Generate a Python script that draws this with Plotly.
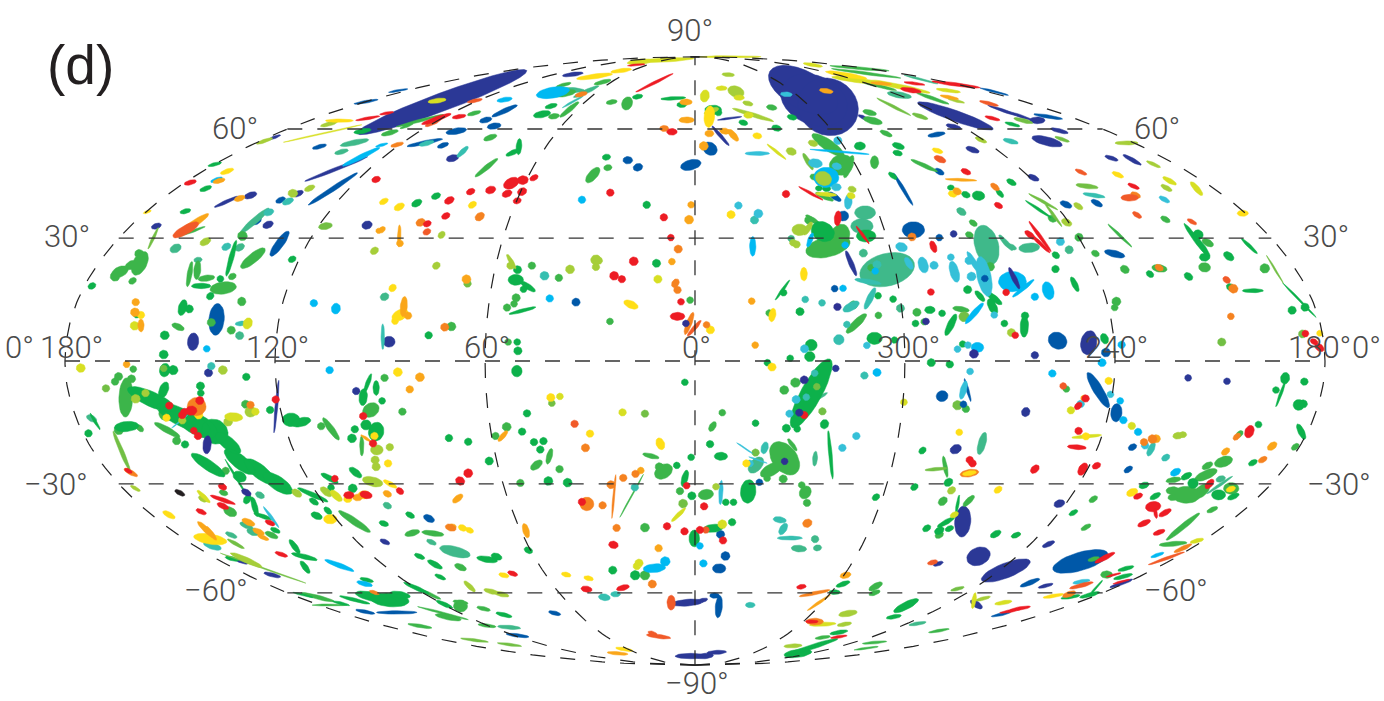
import math
import plotly.graph_objects as go

# Each mark: (map_x, map_y, semi_major, semi_minor, angle) or (map_x, map_y, radius).
# map_x / map_y are the Mollweide-plane readings in equatorial degrees (x -180..180, y -90..90).
NAVY = [(-72.3,76.6,26,2.7,21),(-120.1,66.2,1.8,.4,20),(-102.5,56.8,9.7,.5,22),(-133.9,47.1,3.8,.5,25),(-127,49,1.9,.9,20),
(-153.9,39.9,1.5,.8,20),(-122,40.3,1.6,1,25),(-113.4,49.5,1.6,.8,25),(-93.7,40.2,1.5,1.2,20),(-143.4,5.7,2.6,1.6,85),
(-69.3,60,1.8,1,15),(-34.9,84.8,3,.6,8),(-87.4,5.7,1.7,1.6,0),(38,75.2,9,8.2,-40),(30.9,80.2,11,5.5,-30),(34,77.2,10,7.2,-25),
(88.3,74,5,.4,-20),(48,72.1,1.5,.5,-25),(74.4,72.5,11.5,1.6,-20),(73.9,69.3,2.2,.7,-15),(79.3,62.5,2,.8,-20),(9.9,71.8,3.5,.3,8),
(7.3,66.6,3.8,.5,-50),(73.9,37.6,1),(44.6,28.9,4,.7,-68),(97.8,71.2,2.2,1,0),(92.9,72.5,4,.4,-20),(104.1,68.1,2.6,.6,-15),
(100.6,65,4.5,1.3,-15),(119,60,2,.6,-20),(124.9,59.5,3,.6,-30),(96.7,54.2,1.7,.8,-25),(112.5,5.4,3.6,2.3,80),(97.1,1.7,1.1),
(-139,-3.5,1.2),(-96.8,-8.9,1.1),(-119.6,-13.5,7.8,.4,85),(-129.6,-59.2,2.1,.6,-20),(-120.8,-63.3,2.5,.6,-15),(-88.6,-53.5,1.5,.7,-25),
(-1.2,-87.3,4.5,.8,0),(-2.1,-71.5,4.5,1,5),(40.2,-2.2,1),(74.5,-26.1,1.7,1.3,30),(76.5,-47.5,4.6,2.3,85),(69.5,-60,1.5,.6,20),
(81,-57.8,3.5,2.6,25),(88.8,-62,7.5,2.2,22),(1.9,-70.9,1.8,.6,15),(80.4,-72,2,.9,-35),(2.8,-87.3,2.5,.8,5),(6.2,-86.2,2.8,.6,3),
(140.9,-5,1),(152,-6,1),(94.5,-15.1,1.4,1.2,70),(104.1,-42.2,1.6,1.1,20),(101,-54.2,1.9,.7,25),(100.2,-66.5,2.2,.5,15),(121.8,-65.8,3.5,.5,20)]
BLUE = [(-94,76.7,3.5,.4,10),(-107.3,63.4,2.1,.6,15),(-103.5,50.9,8.5,.7,34),(-125.2,41.4,1.5,.9,35),(-118.7,34.7,4.5,1.2,55),
(-118.4,47.6,1.5,.8,25),(-136.7,12.3,4.7,2.2,85),(-84.8,80,2.8,.3,10),(-54.4,74,4,.7,25),(-59.8,71.3,1.8,.8,15),(-57.4,69.5,2,.9,10),
(-68.2,68,3,.9,10),(-77.2,64.6,5.2,.6,12),(-72,63.8,1.7,.7,20),(-1.2,58,3,1.5,15),(-19.2,59.4,1.4,1.1,0),(-16.3,57.3,1.4,1.1,20),
(-34,17.4,1.2),(85.5,79.7,4.2,.3,-15),(69,67,2.5,.7,10),(69.8,56,1.5,.8,-30),(39.9,48.6,2.2,.8,-35),(4.3,62.8,2.2,1.8,-40),
(59.5,50.8,5.5,.5,-60),(42.4,42.9,1.5),(62.4,38.8,3.2,2.4,0),(69.8,36.5,1),(39.9,21.4,1),(100.9,72.3,4.2,.5,-10),(106,46.3,1.8,.9,-25),
(114.8,46.7,1.8,.8,-30),(119.9,31.7,3,1,-15),(103.6,6,2.8,2.4,-35),(117.4,2.5,1.3),(-94.2,-74.2,2.8,.5,-12),(-85.2,-74.4,5.8,.5,0),
(-50.7,-81.2,3.3,.5,-8),(-40.1,-74.6,1.8,.6,-15),(-76,-46.6,1.7,1,-30),(18.4,-35.9,1),(7.3,-51.3,1.2),(8.7,-57.7,1.3),(6.9,-61.4,1.9,1.4,0),
(70.6,-10.4,1.7,1.6,30),(77.9,-8.6,3.5,.4,-75),(5.6,-69.4,1.4,.8,0),(6.8,-72.7,3.3,1,85),(87.4,-75,2.8,.4,12),(115.2,-8.6,6,1.4,-60),
(120.4,-15.3,2.7,1.6,85),(123.8,-32.1,1.4,.8,35),(125,-25.5,1.3,.9,30),(110.1,-59.3,8.2,2.7,17),(95.7,-65.6,3,.7,22)]
SEA = [(-97.3,64.6,4.2,.8,12),(-101,61.9,2,.7,15),(-148.4,33.3,1.7,1.2,30),(-125.8,41.5,5.5,.9,42),(-130.1,33.6,1.5,1,30),
(-142,29.9,1.2,.8,10),(-130.1,7.5,1.2),(-34.9,80.2,3.5,.7,-5),(-31.1,79.7,4,.6,25),(-88.7,19,1.3,1.1,30),(64.6,83.3,5,.3,-15),
(58.4,78.7,3.5,.9,-10),(76.1,44.2,1.5,1,-35),(83.3,34.3,6,3.4,-75),(88.8,35,3,.7,-50),(48.6,43.9,3,2,0),(47.7,39.9,3.2,2.2,0),
(48.1,31.9,1.2),(54.9,27,8,4.8,15),(58.7,15.6,1.2),(27.5,36.2,1),(106.9,32.9,1.2),(95.5,33.5,3,1.4,5),(90.5,33.8,1.5,.7,-30),
(-172.4,-17,1.6,.9,-30),(-124.3,-39.7,1.4,.9,-30),(-132.5,-51.5,1.8,.7,-25),(-128.2,-48.7,2,.8,-25),(-126.3,-50.5,1.8,1.1,-20),
(-87.9,-42.8,1.3,.9,-30),(-75.3,-53.6,1.5,.7,-25),(-68.6,-56.4,4.5,1.5,-15),(-66.3,-57,2,1.1,-10),(-53.1,-78.8,3.3,.6,-5),
(34.3,-28.9,2.2,.7,85),(17.4,-30.8,2.8,1.7,50),(35.1,-11,3.2,.5,30),(34.3,-52.7,1.1),(29.7,-55.5,2.2,1,-5),(35,-55.3,1.2,.9,10),
(82,-24.4,3.4,1.1,75),(63.6,-77.7,2.5,.5,10),(150.2,-34.9,1.4,.9,20),(149.9,-36.7,4.5,.4,35)]
MID = [(-143.9,38.3,4.2,.4,20),(-129.3,37,1.4),(-126.3,30.4,4.5,1.4,40),(-144.4,25.7,3.8,.7,80),(-142.2,26.9,2.8,1,85),(-139.6,24.5,2.4,.9,8),
(-132.2,25,1.2,.9,30),(-134.8,21.6,3.8,1.8,8),(-129.5,17.6,1.2,1.3,0),(-138.2,11.4,1.2),(-147.7,10.1,1.9,.9,-25),(-132.5,9.1,1.2),
(-158.6,28.9,3.8,2,65),(-164.3,26.4,2.5,1.5,25),(-165.7,25,1.4),(-161,28.4,2,1.2,30),(-158.8,31.7,1.3),(-160.7,23.7,1.2,.9,35),
(-78.6,71.1,7,.4,15),(-63.1,73.3,2,.6,15),(-87.2,67.5,2.5,.7,15),(-82.4,69.5,2,.4,20),(-58.5,66.1,2,.8,20),(-59.6,57.2,4.2,.7,40),
(-37.5,81.7,2.2,.5,15),(-37.3,79.2,3.3,1,10),(-26.4,82.5,2.5,.6,15),(-35.9,74.4,3.5,.7,40),(-40.3,72.4,1.6,.8,10),(-23.8,76.6,1.6,.7,10),
(-19.4,76.2,2,1.5,70),(-24.9,57.2,1.2,.9,10),(-29.2,55,2.8,1.3,50),(-69.6,10.2,1.3),(-46.6,28.2,1.1),(-38.9,24.6,1.1),(-51.1,18.7,1.2),
(-51.7,16.9,1),(-53.7,15.8,1.1),(-24.3,11.7,1),(-1.4,18,1),(-53.4,5.6,1),(47,86.6,8.5,.4,-5),(48.9,85.1,10,.4,-8),(51.8,81.6,6,.5,-15),
(67.9,77.7,5,.5,-20),(49.9,73.5,2,.8,-15),(50.8,71.1,2.8,1,-15),(54.6,67.3,1.9,.7,-25),(65.5,57.8,4.2,.6,-25),(51.3,58.8,1.9,1.2,90),
(21.9,75,1.5,.8,-10),(38,63.9,5.5,1.6,-35),(41.8,58,3.5,3,20),(43.9,57.5,3.5,1,70),(34,54.4,1.2,.9,-20),(37,48.6,2.8,.7,-25),
(79.5,40.8,1.3,.8,-35),(78.4,37.3,1.2,.9,-30),(38,33.8,6.5,3,15),(41.3,36.8,3.8,2.8,70),(33.7,41.7,2.5,.7,-35),(32.5,41.7,1.2),
(50.3,27.6,1),(45.3,16.6,1.2),(52.4,13.5,1),(63.4,14.4,1.2),(65.5,11.6,1),(46.1,11.1,4,1.1,45),(76,15.3,2.4,.8,-10),(21.2,14.2,1),(84.3,27.9,1.3),
(102.1,42.1,1.3,1,-30),(109.7,36.6,1.2),(121.4,37.1,4.8,.4,-45),(114.4,31.8,1.2,.9,-30),(122.8,27.1,1.4,1.1,-40),(132.7,27.4,2.2,1.1,-10),
(134.4,41.9,1.5,.8,-30),(146.5,35,1.8,1,-30),(145.6,27.7,1.4,1.7,80),(162.8,27.4,1.4),(120.4,17.6,1.3),(119.9,15.8,1),
(-160.5,-2.4,1),(-164.7,-4.6,1.2),(-165.7,-6.1,1.1),(-161,-5.3,1.2),(-162.6,-10.8,5.8,2,88),(-151,-15.5,2.2),(-128.4,-12.8,1.2),
(-104,-20.1,4,.9,-55),(-106.8,-19.3,1.1),(-92.6,-14.5,2.5,2,35),(-95.2,-25.1,3,.6,90),(-164.6,-20.4,1.4),(-158.6,-19.9,1.3,.8,-45),
(-150.8,-20.4,4.2,.9,-30),(-148.1,-23.6,1.2),(-134.1,-32.5,1.1),(-134.7,-39,1.3,.8,-20),(-132.8,-44.6,2,1.3,-30),(-121,-51.5,2,.8,-25),
(-107.8,-69.9,5,.6,-15),(-104.4,-72.2,5,.3,0),(-97.3,-47.5,5.5,1,-35),(-88.7,-5,1.1),(-83.6,-15,1.1),(-57,-22.2,1.1),(-53.8,-19.5,1.3),
(-41.6,-28.2,2.4,.8,75),(-45.3,-30.8,2,1.1,40),(-38.7,-32,1.1),(-12.6,-28.1,2.4,.7,-15),(-9,-32.7,2.8,2,35),(-10.2,-31.3,1.2),(-49.9,-36.1,1.1),
(-18.1,-39.9,7.2,.2,62),(-4.3,-38.5,1.1),(-80.8,-50.9,2.2,.9,15),(-74.9,-51,3.2,.8,-8),(-14.3,-49.3,1.3),(-14.3,-63.4,1.4),(-67,-61,1.8,.9,-25),
(-67,-72.5,2,1.8,0),(-67,-71.4,2.2,.6,-10),(-60.4,-73.3,2,.6,-15),(-72,-74.6,7.5,.3,-15),(-70.5,-75.8,3.8,.8,-12),(-78.6,-78.4,3.5,.5,-10),
(-59.4,-78.3,2.6,.5,-8),(-75.8,-69,3.5,.5,-25),(28.7,-6.4,1.4),(25.5,-8.6,1.3),(30.9,-14.5,2),(25.6,-28.8,5.5,3.6,-55),(27.8,-24.8,2.2,.6,-55),
(21.8,-32.2,3.5,1.7,30),(25.2,-34.9,1.2),(20.6,-34.7,1),(30.5,-36.7,1),(31.5,-38.9,2,1.6,60),(32,-42,1.1),(5,-19.4,1.6,.9,60),(7.8,-15.3,1),
(3.1,-39.5,2.2,1.5,10),(71.5,-31.3,3.2,.6,-80),(70.8,-41.5,1.5,1.1,45),(78.2,-41.4,2.2,.8,45),(69.8,-51.5,1.3,.9,30),(77.4,-14.2,1.1),
(51.6,-66.7,2.2,.9,30),(51.3,-68.6,1.7,.7,20),(69.7,-79.8,3,.4,10),(36.5,-81.8,2.2,.5,8),(51.3,-83.3,3.5,.4,5),(48.9,-85,3.5,.3,8),
(106.1,-8.3,1),(171.5,-25.4,1.3,.8,40),(155.6,-21.6,1.2,.8,45),(151,-29.8,2.7,1.5,20),(146.4,-31,1.7,.9,30),(146,-33.7,3.5,1.3,25),
(136.7,-35.2,2.2,.8,10),(153.2,-37.7,2.2,1.7,0),(140.4,-39.6,4,2.5,0),(136.6,-38.4,2,1.2,0),(136.6,-40.3,1.5,1,10),(144.6,-38.6,3,1.5,40),
(113.8,-40.9,1.4,.8,35),(147.8,-44,1.7,.7,25),(111.7,-49.2,1.6,.7,30),(139.4,-49,6.2,.8,40),(136.6,-54.1,4,.7,5),(91.7,-51.6,1.4,.7,20),
(113.9,-58.6,1.7,.6,15),(117.6,-63.2,1.7,1.1,0)]
GREEN = [(-95,68,2.5,.7,10),(-137.2,58.2,2,.5,15),(-139.8,51,1.8,.7,20),(-145.6,44.3,1.6,.7,15),(-132.5,30.4,5.5,.7,75),(-115.1,30.1,1.2,.9,30),
(-141.1,22.2,2.8,.8,0),(-135.6,24.3,1),(-138.5,19.2,1.2,1,50),(-146.4,15.8,2.4,1.2,75),(-144.5,15.4,1.2),(-151.5,7.6,1.3),(-151.8,1.9,1.3),
(-172.3,22.2,1.2,.9,30),(-159.5,13.7,1),(-50.3,63.4,2.4,.8,85),(-52,61.7,2.2,.7,25),(-41.1,75.4,1.8,.7,15),(-43.7,73,2.5,1,12),
(-16.4,78.2,1.5,.7,10),(-6.2,77.7,3.6,.5,3),(-3.8,75.8,1.4,.8,0),(-25.3,60.3,1.2,.9,10),(-13.8,46.2,1.1),(-74,48.8,1.4,.9,25),(-79.5,46.7,1.6,1,30),
(-76.1,7.6,1.1),(-50.7,27,1.2),(-51.2,24,2.2,1.6,0),(-47.7,22,2.5,.8,-35),(-49,21.2,1),(-49.3,14.9,4,.5,15),(-11,28.9,1.2),(-50.8,5.6,1),(-50.6,3,1.2),
(58.1,63.6,1.8,.9,-20),(57.9,61.5,1.4,.8,-15),(47.1,63.6,1.6,1.2,0),(27.7,72.1,1.4,.8,-15),(23.3,68.9,1.4,.9,-15),(6.7,73.5,1),(13.8,70.5,1.3,.8,-15),
(90.7,70,2.2,.5,-15),(5.2,74.3,2.4,1.4,0),(56.5,54.8,1.5,.7,-40),(35.4,51.1,1,.8,0),(37.6,51,1.2,.9,0),(73.1,51.3,1,.8,0),(77.4,49.2,1.3,.9,-25),(81,48.9,1.8,1.4,-10),
(87.1,49.6,1.5,.7,-50),(90.4,52.9,1.5,.8,-30),(48.9,37,2.8,1.8,0),(36.5,38.3,3.5,2.8,-30),(25,21,3.6,.4,55),(25.3,20.2,1),(77.9,21.1,1.2),(81.4,19.2,2,.8,-50),
(85.5,18.5,2.8,.9,-40),(85,16.1,2.5,1.2,-65),(52.3,19.3,1),(56.6,18.3,1),(30,14.6,1.2),(67.1,15.1,1.5,1.1,0),(70.6,14.1,1),(63,11.1,1),(73.1,10.7,3.5,1,65),
(88.4,11.1,1),(51.3,6.7,2.2,1.8,0),(57,6.2,1),(33.2,4.7,1.7),(32.8,1.3,1.5),(27.2,.8,1),(76.5,5,1),(98.1,44.9,4.5,.4,-35),(143.2,35.8,6,.7,-55),(144.9,33.8,3.8,.8,-55),
(143.7,37.3,1.5),(145.6,30.7,1.5,1.2,0),(158.4,34,3.2,.5,-45),(152.5,31,1.7,1.1,-40),(172.7,18,7,.3,-47),(103.1,31.3,1.2,.9,-40),(103,27.2,1.1),(130,25.7,1.2,.9,-40),
(141,25,1.4,1,-40),(108.5,22.7,2.4,.8,-65),(153,21.8,1.3,1,-40),(159.4,20.8,3,.6,0),(170.6,15,1.2),(174.3,15.9,1.2),(94.1,10.2,3.2,1.2,88),(94.3,13.4,1.1),(117,6.6,1.6,1.1,-70),
(-151.5,-2.7,2,1.5,80),(-149.1,-2.7,1.4),(-128.2,-4.7,1.1),(-155.3,-11.3,7.5,2.2,-25),(-146.2,-16.9,8.5,2.6,-27),(-142,-19,6,3,-28),(-137.2,-20.9,4,3.5,-40),(-133.4,-24.3,4.5,1.8,-40),
(-130.1,-29.8,5.5,2,-40),(-124.4,-32.7,5.5,2,-40),(-119.2,-36.2,5,2,-35),(-139.1,-30.8,5.8,1.5,-35),(-151.8,-8.6,2.5,1.3,70),(-141.3,-7.4,1.2),(-141.2,-9.5,1),
(-143.4,-12.7,1),(-121.4,-14.5,1.1),(-115.4,-17.4,2.5,2,0),(-112.5,-18.1,2.8,1.3,15),(-97.2,-20.2,1.1),(-98,-22.9,1.3),(-94.8,-10.7,2.5,1.2,85),(-93.5,-6.6,3,.6,70),
(-91.1,-8,2.2,.9,90),(-94,-18.9,1.5),(-91.1,-20.9,2.8,2.2,80),(-171.4,-17.9,2.8,.4,-60),(-173.3,-21.4,1.1),(-162.4,-19.4,3.5,1.5,5),(-145.7,-24.7,1.1),
(-131,-34.7,6.5,.3,-60),(-130.1,-34.2,2,1.5,-30),(-127.9,-40.9,1.5,1,60),(-125.8,-43.1,3,.8,-75),(-123.4,-46,2.8,.6,-20),(-119.9,-50.1,1.5,.7,-25),(-114.4,-54.9,2.5,.8,-55),
(-111.6,-57.9,3.8,.7,-15),(-111.4,-61,2.2,.8,-55),(-132.3,-58.5,2,.6,-15),(-93.8,-64.8,2,.6,-15),(-91.2,-69.9,6,1.4,-12),(-97.2,-70.7,4.5,.5,-15),(-101.1,-71.7,2.5,.4,-15),
(-112,-69.2,3,.3,-15),(-104.4,-34.7,2.8,.8,-30),(-97,-33,2.2,1,-40),(-97.8,-37.7,1.3),(-104,-37.5,1),(-109.2,-39.6,4.8,.7,-25),(-108.9,-41.6,1.5,.8,-35),(-108.1,-45.8,1.7,1,-25),
(-104.9,-44.3,1.4,.8,-45),(-89.4,-11.8,1),(-50.9,-3,1.7,1.5,90),(-2.9,-6.3,1),(-48,-15.5,1.1),(-70.3,-22.8,1.1),(-64.8,-23.9,1.1),(-49.4,-20.9,1.1),(-46,-24,1.1),(-43.3,-23.7,1.1),
(-44.2,-26.2,1.1),(-58.8,-29.6,1.2),(-5.2,-30.9,1),(-1.1,-28.5,1),(-41.9,-35.5,1.3),(-36.4,-36,1.3),(-2.9,-34.7,2.5,.9,75),(-.9,-39.9,1.2),(-81.4,-45.6,1.4,.8,-30),(-88.9,-48.1,1.4,.8,-20),
(-47.6,-56,1.3,.9,-30),(-56.7,-57.9,1.6,1,-20),(-59.4,-58.7,3,.9,-10),(-78.7,-57.8,1.6,.7,-25),(-74.3,-60.2,2.4,.8,-30),(-72.8,-63.9,1.7,.6,-25),(-.2,-52.5,2.5,1.5,90),(-17.1,-63.4,1.4),
(-23.5,-61.9,1.2),(-79.6,-67.2,4,.6,-25),(-87.2,-70.7,5.5,2,-5),(-84.3,-69.2,3,1,-10),(-71.6,-72,2.6,.6,-25),(-54.6,-75.1,2.4,.6,-15),(20.7,-.5,1),(72.8,-1,1.1),(67.5,-.5,1.2),
(33.2,-9.6,11.5,3,62),(37,-18.7,1.4,1.2,70),(26.1,-19.9,1.2),(29.2,-20.1,1),(38.7,-27.8,7.2,.5,-85),(17.3,-18.4,1),(4.3,-24.6,1.1),(7.4,-28.2,1.9,1.2,0),(15.2,-38.6,3.5,2.2,85),
(8.8,-41.8,1),(11,-41.8,1),(5.2,-49.5,2.8,1.2,5),(10.6,-47.7,1.1),(62.7,-37.3,1.2,.9,40),(51.7,-40.3,1.2,.9,40),(65,-26.5,1.2,.9,45),(72.4,-35.9,1.4,1.1,40),(75,-42.6,3,.4,80),
(71.7,-47.7,2.8,.7,30),(72.7,-49.6,1.3,.8,25),(66.2,-49.5,1.3,.9,35),(69.8,-50.2,1.5,1,30),(85.9,-51.2,1.7,.9,30),(91.7,-51.5,1.4,.7,25),(42.3,-66,2.1,.7,20),(39.9,-68.4,1.6,.7,0),
(60.3,-72.4,4,1.1,28),(56.8,-75.7,2.2,.6,10),(41.1,-80.3,2.6,.6,10),(33.7,-84.5,7.5,.7,18),(29.4,-86.5,4,1.2,8),(168.6,-5.1,1.7,1.3,80),(167.4,-9.6,4.2,.4,70),(166,-8.6,1),(174.1,-6.1,1.1),
(172.5,-13,1.6),(173.8,-12.7,1.2),(173.2,-20.9,2.5,.9,-65),(161,-18.8,1),(159.4,-30.1,1.4,.8,30),(140.4,-34.1,1.7,.9,30),(142.3,-36.2,1.5),(149.6,-39.6,2,1.5,0),(153.8,-40.1,1.8,.8,25),
(128.3,-36.8,1.5,.9,20),(131.5,-40,1.7,.8,30),(108.1,-44.9,1.4,.7,30),(107.3,-69.8,2.8,.5,10),(112.8,-69.2,3,.6,15),(114.5,-67.2,3,.3,50),(123.1,-61.4,2.4,.6,15),(122.3,-63.8,2.8,.6,15)]
TEAL = [(-116.3,47.2,1.7,.9,25),(-121.8,44,1.5,1,20),(-133.9,33.8,1.4,1,30),(-129.6,11.1,1.8,.7,5),(-76.7,64.4,2.2,.7,15),(-66.4,61.9,2.2,.7,45),(-34.9,76.7,3.5,.3,30),(-43,25.2,1.3),(-89.2,7.2,3.8,.5,90),
(90.2,65,2.2,.7,-15),(17,41.7,1.2),(49.4,23.5,3.8,.7,-10),(52,28.5,1.2),(50,18.5,3.5,.9,65),(44.6,16.1,2.6,1.2,30),(31.5,18.2,1),(36.3,17.2,1),(43.4,10.8,1),(41.1,6.3,1.5),
(114,49,3.2,.6,-10),(-138.2,-1.5,1.1),(-137.9,-54.7,2.7,1,-20),(-25.9,-69.9,1.7,1,-10),(-22.7,-69,1.4,.8,0),(-17.2,-37.4,1.1),(19.9,-25.7,1.8,1,75),(24.2,-47,1.9,.9,-10),
(25.2,-49.7,1.9,1,60),(27.1,-52.4,3.6,.6,0),(34.2,-3.6,1),(31.8,-10.7,1),(48.4,-4.3,1.1),(15.8,-72.2,1.4,.8,0),(130.3,-26.1,2.2,.9,65),(134.5,-28.6,1.3,.9,35)]
LGREEN = [(-105.6,39.9,2,1,10),(-154.8,36.3,3.5,.4,65),(-65,22.9,1.1),(32.3,59,2.8,.7,-60),(93.8,71.1,2.8,.6,-15),(104.9,65.6,2.2,.5,-20),(112,51.7,3.2,.7,-8),
(99.5,47.1,4.8,.4,-30),(102.4,43.2,4.2,.4,-55),(165.7,27.1,4.8,.25,-60),(150.5,5.6,1.2),(173.6,8,1.2),(56.8,75.2,5.5,.4,-28),(64.3,72.4,2.4,.6,-20),(-168.3,-8.1,1.1),(-151.8,-2.2,1),(-163.8,-26.8,6.5,.6,-68),
(-123.4,-61.3,13,.2,-20),(-131.2,-54.1,2.8,.5,-30),(-40.9,-12.5,1),(-14.3,-15.6,1.1),(-3.4,-42.2,1.3),(34.8,-7.6,1),(36.4,-14.9,1.1),(17.3,-27.1,1.1),(68.9,-32,3.2,.5,5),(75,-13.1,1.4),(75,-67.4,2,.5,15),
(-63,-82.6,4,.4,-8),(-53,-83.9,3.5,.4,-8),(76.9,13.1,1.5)]
SKY = [(-95.4,60.4,6,.7,27),(-136.7,53.6,1.8,.6,20),(-139.5,3.6,1),(-108.9,17.1,1.1),(-102.6,15.5,1.6,1.3,80),(-54.4,77.3,2.2,.7,10),(-89.5,63.9,1.8,.4,15),(-40.6,79.4,4.8,1.6,10),(-32.3,47.7,1.1),(-41.5,18.5,1.1),
(41.3,61.9,8.5,.3,-5),(37.5,54.3,3.6,3,0),(32.9,35.8,2.2,.7,70),(42.9,34.3,1),(51.5,26.6,1),(90.7,23.5,4,3,0),(42.3,21.5,1),(80.7,4,1.8,1.5,0),(16.5,33.9,2.9,.9,90),(100.9,20.8,2.7,1.6,-75),(97.1,19,1.1),
(93.8,21.5,4,.6,40),(121.9,4.8,1.1),(-104.4,-2.7,1.1),(-101.6,-60.5,4.5,.7,-22),(-94.4,-65.9,2.3,.7,-15),(-8.5,-59.3,1.4),(-11.6,-61.3,3.2,1.3,5),(1.4,-54.7,1),(2.4,-59.9,1.1),(52,-3.4,1.2),
(102.1,-3.7,1.1),(116.3,-.5,1.2),(121.5,-11.8,1),(122.4,-17.5,1.1),(126.6,-21,1.1),(137.3,-32.9,1.6,1,30),(132.1,-57.4,2,.5,20),(79.8,14.1,4,.8,50)]
CYAN = [(-147.2,-17.9,3,.2,40),(-121.1,-46.2,3.8,.4,-55),(26.1,78.9,1.7,.7,-5),(17.8,61.4,3.5,.6,0),(40.8,65.2,1.2),(40.5,57.6,1.4,1,-15),(34.4,58.5,2,1.3,-10),(40.4,51.4,1.4,1.1,0),(43.8,47.1,2.2,1.1,85),
(12.4,46,1.1),(18.1,43.6,1.3),(59,33.7,1.7,1.3,-20),(61.1,28.9,2,.9,-60),(65.2,28.4,2.4,1.4,-75),(68.3,28.3,1.2),(74.1,26.4,3.2,1.3,-75),(73.1,30.7,1),(78.3,29.7,1.2),(82.6,25,6,2,-78),(79.8,28.9,4,.8,-60),
(79,25,1.3),(134.1,47.8,1.7,.7,-30),(104.4,35.3,1.2),(49.1,4.6,1),(31.3,3.6,1.2),(78,4.7,1),(75,3.5,1),(28.9,-11.4,1.2),(27,-15.6,1.1),(46.1,-22.2,1.1),(42.1,-25.7,1.1),(14.2,-25.8,2.8,.2,-35),(18,-29.3,2.8,.2,-20),
(15.7,-30.3,1),(7.4,-38.9,3.6,.6,87),(78.6,-3.1,1),(76.7,-8.6,2.8,.9,75),(118.7,-9.9,1),(110.2,-12.7,1.1),(128.6,-25,1.1),(110.4,-65.3,2.5,.6,10),(85.5,13.6,1)]
OLIVE = [(-104.6,70.1,2.5,.6,15),(-123,65.1,2.5,.5,20),(-139.9,35.3,1.7,1,30),(-114.9,49.6,1.4,1.2,0),(-110.1,51.1,1.6,.8,25),(-91.6,32.6,1.3,1,40),(-72.4,37.3,1.2,.9,50),(-73.9,28.2,1.2,1,40),(-52.5,29.4,2.5,.6,-60),
(-52.7,28.2,1.1),(-35.7,27.1,1.3),(-28.3,29.9,1.5),(-27.5,29.7,1.1),(-28.3,27.8,1.1),(74.6,77,2.5,.4,-15),(15.1,76.2,1.5,.7,-15),(16.6,72.8,6.2,.6,-18),(9.5,84.7,1.8,.6,-5),(11.7,79.7,2.4,1.6,-20),(4.7,74,2.2,.8,20),
(27.5,62,1.5,1.1,-20),(33.7,64.4,1.4,.9,-20),(36.7,54,2.4,2,-30),(44.9,50.8,1.2,.9,-20),(29.9,38.8,2.2,1.7,0),(32.3,39.2,2.2,.8,60),(28,35,1),(29,34.5,1.1),(81.7,65.4,1.8,.6,-25),(90.4,8.4,1.2),(123.3,64.5,3.3,.6,0),
(131,58.2,2.2,.5,-25),(134.7,51.2,1.8,.7,-30),(109.5,45.8,1.5,.8,-35),(106.2,41,1.6,1,-30),(-157,-9.5,1.1),(-159.8,-11.2,1.3),(-146.5,-17.6,1.1),(-133.4,-18,1.3),(-127,-15,1.6),(-90.9,-26.3,1.8,1.5,0),(-91.4,-29.3,1.2),(-91.1,-31.3,1.2),
(-159.9,-37.7,1.6,.5,-30),(-140.6,-40.8,1.4,.8,-30),(-128.2,-58.9,5,.8,-25),(-92.1,-35.7,3,1.4,-15),(-105.4,-38.7,2,1,-40),(-113.8,-39.1,1.6,1,-35),(-134.9,-2.7,1.3),(-87.2,-25.5,1.1),(-64.4,-66.7,2.2,.7,-45),(-58.2,-68.2,2.2,.7,-15),(-55.3,-69,2.2,.7,-15),
(6,-37.2,1),(73.3,-38.3,1.3,1,40),(43.7,-74.7,2.7,.9,10),(42.7,-77.9,2.1,.6,10),(28,-84.3,2.6,.6,3),(82.3,-70.3,2.2,.5,15),(138,-22.1,1.5,1,10),(139.4,-21.8,1.1,.9,0)]
LIME = [(-106.4,67.3,11.5,.2,13),(-73.7,77,2.6,.7,8),(-15.9,88.5,3.5,.8,5),(-9.3,89,9,.6,3),(-127.8,11.1,1.7,1.3,70),(-160.1,10.4,1.3),(-175.5,-2.1,1.3),(-10.6,24.2,1.2),(9.9,90,9,.3,0),(33.7,87.6,2.8,.5,-10),(46,83.1,7,.7,-8),
(58.4,81.2,9,.7,-12),(72.4,80,3.5,.5,-8),(7.6,80.7,1.6,.7,0),(12.6,77.9,1.5,.8,0),(2.8,78.4,1.8,1.3,80),(15.3,72.7,1.4,.9,0),(23.3,61.9,3.5,.4,-40),(37.5,49.3,3,.6,-5),(44.6,48.9,1.2,.9,-20),(135.6,53.3,2.2,.7,-30),(143.3,51,2.6,.8,-50),
(-131.8,-16.6,2.6,1.3,-5),(-125.6,-15,1.1),(-140.4,-40.1,2.6,.6,-45),(-102.5,-39.9,2.2,1,-45),(-4.7,-45.5,2.8,.6,45),(-20.7,-15.2,1.1),(-38.6,-10.5,1),(-16,-59.8,1.2),(-16.6,-60.7,1.1),(36.5,-77.9,3.8,.6,3),(59.7,-12.2,1),(7.8,-48.3,1.3),
(74.1,-45.5,1.3,.8,30),(88.1,-71.5,2.5,.6,10),(79.7,-70.9,2.4,.6,80),(124.8,-19.2,1.1),(107.4,-14.6,1.1),(111.9,-22.3,4.3,.5,5),(143.4,-53.2,2,.6,15)]
YELLOW = [(-101.6,71.1,4,.5,0),(-133.7,56.1,2,.7,20),(-156.5,44.1,1.2,.4,20),(-158.3,13.6,1.1),(-28.7,84.2,5.2,.7,8),(-21.1,85.9,3,.6,8),(-63.6,46.2,1.3,.9,35),(-84.5,45.6,1.6,1,30),(-88.9,47.2,1.4,.8,30),(-86.4,21.6,1.2,1,50),(-84.3,13.6,2.5,1.5,30),
(-85.7,11.8,1),(-18.3,16.7,2.2,1.1,-25),(43.2,84.6,6,.7,-10),(4.1,72.3,3.2,1.5,85),(17.8,66.6,1.3,.9,-10),(69.3,62.2,1.6,.7,-20),(73.6,49.4,1.3,.9,-20),(10.3,43.3,1.2),(31.1,25.7,2,1,90),(22.1,13.6,2,1,80),(4.4,9.2,1.2),(120.8,55.1,1.8,.7,-25),(156.5,43.7,1.6,.9,0),(118.2,-5.9,1.1),(178.5,8.2,.9),
(-141.8,-16,1.2),(-151,-16.8,1.1),(-150.3,-45.5,2,.8,-30),(-138.5,-52.7,4.8,1.5,-10),(-104.2,-46.8,1.9,1.4,0),(-99.2,-40.9,1.2,1,0),(-94.5,-39.6,1.8,1.2,0),(-91.6,-22.2,1.1),(-84.9,-3.3,1.3),(-41.2,-10.8,1.2),(-30,-21.5,1.1),(-9.9,-24.5,1.8,1.2,-70),(-87.7,-30.3,1.1),(-87.1,-36.4,2.2,.7,-30),
(-66.4,-49.4,1.3,.9,-25),(-64.4,-50.1,1.2,.8,-25),(-54.6,-63.4,1.5,.7,-15),(-36.8,-63.2,1.4,.7,-15),(-30.4,-64.3,1.4,.7,-15),(22,-1.8,1.2),(14.7,-30.3,1.1),(75.5,-21.1,1),(86.6,-38.1,1.3,.9,40),(124.9,-38.9,1.7,1.1,25),(102.4,-69.5,3,.5,10),(-20.2,-85.3,2.5,.5,-10),(153.1,-37.9,1.4,.8,20)]
AMBER = [(-136,53.3,1.8,.7,15),(-130.1,48.1,1.6,.8,20),(-143.7,40.2,5.8,1,35),(-90.4,38.5,.8,.8,0),(-159.8,17.4,1.1),(-160,14.4,1.3),(-158.3,10.5,1.9,.9,90),(-2.6,76.6,1.8,.9,0),(-2.4,71.3,2.2,.9,0),(-1.1,46.2,1),(-1.7,41.8,1.3),(-89.5,38.8,1.2,.8,40),
(-84.5,37,3.3,.5,88),(-84.3,34.8,1),(-83.2,16.1,3,1,85),(-82,13.4,1.1),(-65.3,24.2,1.3),(-6.6,29.4,1),(37.5,79.9,2,.7,-10),(53.2,82.1,3,.5,-5),(72.7,78,2.7,.5,-12),(8.5,68,1.5,.9,-10),(10.9,66.8,2.2,.9,-50),(4.1,67.3,1.3,1,0),(2.5,63.6,1.3),(76,53.6,4.5,.4,-3),
(74.9,50.2,1.3,1,-30),(16.2,17.7,1),(17.2,4.7,1),(-162.4,-1,1),(-94,-22.9,1.8,.4,-35),(-96.4,-40.4,1.4,1,0),(-127.6,-47.7,2,.9,-25),(-124.7,-50.5,1.8,.8,-25),(-123.4,-52.2,1.8,.6,-25),(-139.6,-50,3.5,.8,-45),(-138.2,-51,2.5,.6,-55),(-78.6,-4.8,1.3),(-81.5,-8.4,1.1),
(-67.8,-40.7,1.8,.9,40),(-87.9,-39.3,1.3,.9,-30),(-48.3,-50.2,2.2,.9,-75),(-54.9,-22.2,2,.7,50),(-10.4,-55.4,1.1),(-22.1,-86.5,3,.5,-5),(-15.5,-32.4,1),(-69.4,-49,1.2,.8,0),(43,-63.4,1.6,.9,15),(35.4,-71.5,4,.4,35),(111.1,-11,.9),(131.8,-23,1.2),(164.9,-25.2,1.6,1,40),(151.6,-26.8,1.4,.9,40)]
ORANGE = [(-32.5,78.9,1.8,.7,15),(-85.1,64,1.9,.6,15),(-78.4,41,1.4,1.1,30),(-61.5,42.7,1.5,1.1,40),(-52.7,52.1,1.4,1,30),(-71.5,10,1.2),(-8.8,68.8,1.3,.9,0),(-4.8,33.1,1.2),(-5.6,23,1.4,1,60),(-5,21,1.1),(-1.7,11.1,3.5,.8,70),(62,36.7,1.2),(85.7,51.5,1.5,.8,-40),(3.3,10.7,1),
(132.6,27.6,1.3,.9,-30),(153.8,21.4,1.4,1.3,-40),(153.1,13.2,1),(125.9,49.1,1.5,.8,-25),(-161.2,-33,2.2,.7,-30),(-142.4,-13.5,2.7),(-127,-13,1.1),(-91.6,-68.5,1.5,.5,-20),(-69.8,-49.3,1.6,1,-20),(-31.3,-25.7,1.2),(-24,-36.6,1.2),(-23.2,-40.1,6.5,.3,85),(-20.5,-34.6,1.1),(-17,-33.4,1.1),(-30.9,-42.3,2),(-26.4,-42.7,1.1),
(-22.4,-49.4,1.1),(-12.2,-66,1.2),(32.1,-48,1.4,1.2,30),(34.2,-68.7,4.5,.5,12),(34.2,-77.1,2.5,1,0),(78.4,-33.2,2.7,1.1,10),(106.9,-69,2,.8,20),(128.3,-24,1.1),(130.7,-23.1,1.3),(154.8,-22.4,1.3,.8,45),(162.2,-29.2,1.4,.8,30),(139.4,-55.4,2.8,.6,25)]
VERMIL = [(-145.5,38.8,4.2,1.3,30),(-62.9,77,2.2,.5,12),(-74.8,70.5,2.5,.6,25),(-76.6,38.2,1.2,.9,30),(-.2,9.7,3,.6,50),(84,76.2,2.8,.5,-15),(70,59.7,1.8,.9,-25),(110.3,55.9,1.8,.6,-25),(124.2,48.3,2.5,1,0),(126.3,43.2,1.5,.7,-35),(142,41.2,1.5,.6,-30),(151.9,24,1.2,.9,-40),
(-34.4,-18.6,1.1),(-6.8,-71.5,1.2,2.2,0),(-10.4,-81.5,3.5,.6,-8),(-12.1,-80.6,1.4,.6,-20),(3.1,-50,1),(67.9,-59.6,1.5,.7,15),(105.2,-7.4,1),(134.7,-58.4,5.5,.4,20),(110.4,-66.4,3.5,.6,15)]
RED = [(-93.5,71.8,3.5,.4,10),(-91.1,53.7,1.3,.9,20),(-144.2,52.8,1.8,.7,15),(-88.1,73.3,2,.4,10),(-73.9,71.6,4.5,.7,20),(-67.4,72.3,2,.6,10),(-11.6,82.3,6,.4,27),(-16.8,87.6,2.5,.3,5),(-6.6,67.8,1.5,1,0),(-24.2,49.8,1.1),(-8.9,42.5,1.1),(-52.5,52.6,2.4,1.5,30),(-49.2,53.5,1.6,1.3,10),(-46,54.2,1.3,.8,30),
(-53.7,49.5,1.5,1,25),(-49.4,50.1,1.4,1.1,30),(-50.8,47.4,1.2,.9,20),(-58.4,50.6,1.5,1.1,20),(-64.1,50.1,1.3,.9,25),(-70.2,47.5,1.5,1,30),(-71.2,42.9,1.3,.9,30),(-76.5,40.6,1.2,.9,25),(-6.9,36.5,1),(-17.5,29.5,1.3),(-23.1,25.2,1.3),(-20.9,24.2,1.1),(-4,17.5,1),(-5,13.2,2.1,1.2,0),
(74.6,81.8,7,.5,-8),(62.7,82.1,3,.4,-8),(61.7,80.1,3,.7,-10),(85,71.8,2.2,.5,-15),(77.4,56,1.5,.8,-25),(33.1,49.6,4,.4,-30),(26,49.4,1.1),(86.7,46,1.3,.8,-30),(40.8,42.2,2.2,1,85),(47.9,37.3,3.2,.4,-55),(68.1,33.8,1.8,.9,-70),(88.9,20.3,1),(67.4,20.4,1),(91.5,7.6,1),
(125.3,51.7,1.8,.6,-25),(98.6,36.8,5.5,.5,-55),(95.7,37.3,1.8,.8,-40),(98.6,34.8,4,.5,-45),(174.4,8.1,1),(176.9,5.7,1.2,.8,-30),(178.4,4,1.5,1,-40),(-141.5,-11.7,1.2),(-143.9,-14.7,1.6,1.4,0),(-145.8,-15,1.2,1,0),(-146.5,-16,1.1),(-150.2,-13.2,1.1),(-143.2,-20.6,1),(-142,-22.2,1.1),(-119.8,-11.4,1.1),
(-94.8,-16.3,1.1),(-92,-24.4,1.1),(-161.9,-32.5,1.2,.6,-30),(-135,-37.2,1.3,.9,-30),(-134.9,-41.1,3.8,.6,-20),(-134.9,-42.9,1.8,.8,-25),(-141.1,-44.6,1.6,.7,-25),(-121.4,-47.9,1.5,.7,-25),(-118.2,-57.2,1.9,.6,-20),(-102.9,-34.8,1),(-98.9,-39.7,1.5,1.1,0),(-94,-39.6,1.8,1.1,-15),
(-64.8,-33.2,1.3),(-67.1,-35.5,1.4,1.2,-40),(-84.3,-38.5,1.2,.9,-40),(-2.4,-36.9,1),(-32.3,-41.7,1.1),(-8,-48.9,1.1),(-3,-50.4,1.1),(-23.3,-54.4,1.4,1.1,-15),(-52.1,-62.9,1.5,.7,-20),(-31,-67.5,1.6,.9,-10),(-20.6,-67.1,1.9,.8,15),(31.2,-16,1.1),(2.6,-43,1.1),(1.4,-50,1.1),(8,-53.1,1.1),(78.5,-29.3,1.1),(79.3,-30.3,1.1),(30.4,-66.8,1.4,.7,10),(33.4,-77.1,1.8,.5,0),(41.1,-81.6,2.4,.4,8),
(111.6,-11.1,1.1),(109.5,-13.3,1.3,.9,45),(109.6,-20.7,1.1),(109.1,-25.5,2.7,.7,-5),(97.1,-32,1.5,1,45),(110.8,-32,2,1.2,60),(114.7,-31,1.3,.9,30),(158.4,-20.9,1.9,1.3,70),(147,-36.4,1.7,.9,50),(126.6,-40,1.4,.8,25),(130.9,-43.1,2.2,1.5,10),(131.6,-45.1,1.5,.5,-80),(134.3,-44.9,2,.8,30),(128.3,-48,2,.8,25),(132.6,-50.7,1.8,.7,20),
(117.1,-58.2,3.2,.7,28),(119.6,-63.3,2.2,.3,15),(121.8,-65.3,2.5,.3,15),(92.9,-73.2,3,.5,10),(90,-74,3,.4,10)]
BLACK = [(-147.2,-39,1.6,.7,-30)]
OVERLAY_YELLOW = [(78.4,-33.2,2,.7,10),(111.7,-22.3,1.1)]
OVERLAY_NAVY = [(91.2,24.5,3.5,.7,-65),(-139.4,-24.8,2.7,1.2,85),(-128.2,-38.9,1.5,.9,-30),(-2.6,11.1,1),(40.7,16,1.1),(66,11.7,1),(79.7,2.1,1.3),(31.2,-5.6,1.2),(29.8,-15.3,1.1),(25.6,-29.7,1)]
OVERLAY_BLUE = [(82.8,24.4,1),(76.7,-12.8,1)]

SERIES = [
    (NAVY, "#2b3896"), (BLUE, "#0058a8"), (SEA, "#3fb98a"), (MID, "#3cb54a"), (GREEN, "#0db14b"),
    (TEAL, "#36bfb0"), (LGREEN, "#72bf44"), (SKY, "#00b9f2"), (CYAN, "#35c0d8"), (OLIVE, "#a6ce39"),
    (LIME, "#d7df23"), (YELLOW, "#ffde17"), (AMBER, "#faa61a"), (ORANGE, "#f58220"), (VERMIL, "#f15a29"),
    (RED, "#ed1c24"), (BLACK, "#231f20"), (OVERLAY_YELLOW, "#ffde17"), (OVERLAY_NAVY, "#2e3192"), (OVERLAY_BLUE, "#0058a8"),
]

LON_GRID = [-180, -120, -60, 0, 60, 120, 180]
LAT_GRID = [-60, -30, 0, 30, 60]
DEG = "°"
AXIS_LABELS = [
    ("90" + DEG, -1.4, 97.9), ("60" + DEG, -131.4, 68.9), ("60" + DEG, 132, 68.9), ("30" + DEG, -179.4, 36.7), ("30" + DEG, 180.3, 36.7),
    ("0" + DEG, -193, 4.1), ("180" + DEG, -178, 4.1), ("120" + DEG, -119.4, 4.1), ("60" + DEG, -59.4, 4.1), ("0" + DEG, .3, 4.1),
    ("300" + DEG, 60.9, 4.1), ("240" + DEG, 120.3, 4.1), ("180" + DEG, 178.3, 4.1), ("0" + DEG, 192, 4.1),
    ("−30" + DEG, -182.6, -36.4), ("−30" + DEG, 184, -36.4), ("−60" + DEG, -136.9, -67.8), ("−60" + DEG, 137.4, -67.8), ("−90" + DEG, .6, -95.3),
]
PANEL = "(d)"


def aux_angle(lat):
    """Mollweide auxiliary angle for a latitude in degrees."""
    phi = math.radians(lat)
    if abs(lat) >= 90:
        return math.copysign(math.pi / 2, lat)
    t = phi
    for _ in range(40):
        t -= (2 * t + math.sin(2 * t) - math.pi * math.sin(phi)) / (2 + 2 * math.cos(2 * t))
    return t


def project(lon, lat):
    t = aux_angle(lat)
    return lon * math.cos(t), 90 * math.sin(t)


def outlines(marks):
    xs, ys = [], []
    for m in marks:
        x0, y0, a, b, ang = m if len(m) == 5 else (m[0], m[1], m[2], m[2], 0)
        c, s = math.cos(math.radians(ang)), math.sin(math.radians(ang))
        for i in range(29):
            t = 2 * math.pi * i / 28
            u, v = a * math.cos(t), b * math.sin(t)
            xs.append(x0 + u * c - v * s)
            ys.append(y0 + u * s + v * c)
        xs.append(None)
        ys.append(None)
    return xs, ys


fig = go.Figure()

for marks, colour in SERIES:
    xs, ys = outlines(marks)
    fig.add_trace(go.Scatter(x=xs, y=ys, mode="lines", fill="toself", fillcolor=colour,
                             line=dict(width=0.5, color=colour), hoverinfo="skip", showlegend=False))

for lon in LON_GRID:
    pts = [project(lon, -90 + i * 1.0) for i in range(181)]
    fig.add_trace(go.Scatter(x=[p[0] for p in pts], y=[p[1] for p in pts], mode="lines",
                             line=dict(color="#222222", width=1.2, dash="15px,15px"),
                             hoverinfo="skip", showlegend=False))
for lat in LAT_GRID:
    pts = [project(-180 + i * 2.0, lat) for i in range(181)]
    fig.add_trace(go.Scatter(x=[p[0] for p in pts], y=[p[1] for p in pts], mode="lines",
                             line=dict(color="#333333", width=1.4, dash="15px,15px"),
                             hoverinfo="skip", showlegend=False))

for text, x, y in AXIS_LABELS:
    fig.add_annotation(x=x, y=y, text=text, showarrow=False, xanchor="center", yanchor="middle",
                       font=dict(family="Roboto", size=31, color="#4a4a4a", weight=300))
fig.add_annotation(x=-175.5, y=87.5, text=PANEL, showarrow=False, xanchor="center", yanchor="middle",
                   font=dict(family="Liberation Sans", size=55, color="#231f20"))

fig.update_layout(
    width=1384, height=701, margin=dict(l=0, r=0, t=0, b=0),
    paper_bgcolor="white", plot_bgcolor="white", showlegend=False,
    xaxis=dict(range=[-198.57, 196.86], visible=False, fixedrange=True),
    yaxis=dict(range=[-100.6, 106.8], visible=False, fixedrange=True),
)
fig.write_html("out.html", config={"displayModeBar": False},
               post_script="document.body.style.margin='0';document.documentElement.style.overflow='hidden';")
